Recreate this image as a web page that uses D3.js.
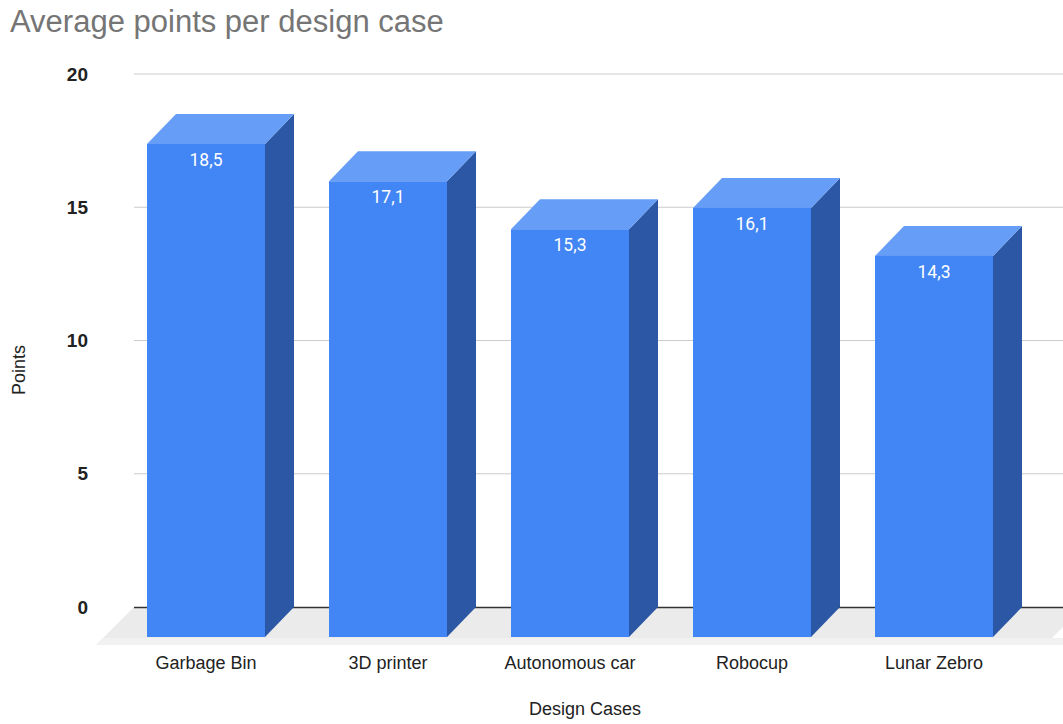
<!DOCTYPE html>
<html>
<head>
<meta charset="utf-8">
<script src="https://cdn.jsdelivr.net/npm/d3@7/dist/d3.min.js"></script>
<style>
  body { margin: 0; background: #fff; }
  svg { display: block; font-family: "Liberation Sans", Arial, sans-serif; }
</style>
</head>
<body>
<svg id="chart" width="1063" height="724"></svg>
<script>
// data
const categories = ["Garbage Bin", "3D printer", "Autonomous car", "Robocup", "Lunar Zebro"];
const points = [18.5, 17.1, 15.3, 16.1, 14.3];
const yTicks = [0, 5, 10, 15, 20];

const W = 1063, H = 724;
const svg = d3.select('#chart');

// back wall scales (gridlines live on the back plane)
const y = d3.scaleLinear().domain([0, 20]).range([607, 74]);
const x = d3.scaleBand().domain(categories).range([144, 1054])
    .paddingInner(0.3516).paddingOuter(0.1758);

// 3d offsets
const dx = -29, dy = 30;          // bar front face relative to back
const floorDepth = 38;

// title
svg.append('text')
    .attr('x', 10).attr('y', 32)
    .attr('font-size', 31)
    .attr('fill', '#757575')
    .text('Average points per design case');

// gridlines
svg.append('g')
    .selectAll('line')
    .data(yTicks.filter(d => d > 0))
    .enter().append('line')
    .attr('x1', 134).attr('x2', W)
    .attr('y1', d => y(d)).attr('y2', d => y(d))
    .attr('stroke', '#cccccc').attr('stroke-width', 1);

// tick labels
svg.append('g')
    .selectAll('text')
    .data(yTicks)
    .enter().append('text')
    .attr('x', 88)
    .attr('y', d => y(d))
    .attr('dy', '0.35em')
    .attr('text-anchor', 'end')
    .attr('font-size', 19)
    .attr('font-weight', 'bold')
    .attr('fill', '#222')
    .text(d => d);

// floor
const y0 = y(0);
svg.append('path')
    .attr('d', `M134,${y0} L${W + 20},${y0} L${W + 20 - floorDepth},${y0 + floorDepth} L${134 - floorDepth},${y0 + floorDepth} Z`)
    .attr('fill', '#ebebeb');
svg.append('path')
    .attr('d', `M${134 - dy - 1},${y0 + dy + 1} L${W},${y0 + dy + 1} L${W},${y0 + floorDepth} L${134 - floorDepth},${y0 + floorDepth} Z`)
    .attr('fill', '#f1f1f1');

// zero line
svg.append('line')
    .attr('x1', 134).attr('x2', W)
    .attr('y1', y0 + 0.5).attr('y2', y0 + 0.5)
    .attr('stroke', '#333').attr('stroke-width', 1.3);

// bars
const bw = x.bandwidth();
const bars = svg.append('g')
    .selectAll('g.bar')
    .data(categories.map((c, i) => ({ name: c, value: points[i] })))
    .enter().append('g')
    .attr('class', 'bar');

// side face
bars.append('path')
    .attr('d', d => {
        const xr = x(d.name) + bw, yt = y(d.value);
        return `M${xr + dx},${yt + dy} L${xr},${yt} L${xr},${y0} L${xr + dx},${y0 + dy} Z`;
    })
    .attr('fill', '#2b57a5');

// top face
bars.append('path')
    .attr('d', d => {
        const xl = x(d.name), yt = y(d.value);
        return `M${xl + dx},${yt + dy} L${xl},${yt} L${xl + bw},${yt} L${xl + bw + dx},${yt + dy} Z`;
    })
    .attr('fill', '#669df6');

// front face
bars.append('rect')
    .attr('x', d => x(d.name) + dx)
    .attr('y', d => y(d.value) + dy)
    .attr('width', bw)
    .attr('height', d => y0 - y(d.value))
    .attr('fill', '#4285f4');

// value labels
bars.append('text')
    .attr('x', d => x(d.name) + dx + bw / 2)
    .attr('y', d => y(d.value) + dy + 15.5)
    .attr('dy', '0.35em')
    .attr('text-anchor', 'middle')
    .attr('font-family', 'Roboto, Arial, sans-serif')
    .attr('font-size', 17.5)
    .attr('fill', '#ffffff')
    .text(d => String(d.value).replace('.', ','));

// category labels
svg.append('g')
    .selectAll('text')
    .data(categories)
    .enter().append('text')
    .attr('x', d => x(d) + dx + bw / 2)
    .attr('y', 663)
    .attr('dy', '0.35em')
    .attr('text-anchor', 'middle')
    .attr('font-size', 18)
    .attr('fill', '#222')
    .text(d => d);

// axis titles
svg.append('text')
    .attr('x', 585).attr('y', 709)
    .attr('dy', '0.35em')
    .attr('text-anchor', 'middle')
    .attr('font-size', 18)
    .attr('fill', '#222')
    .text('Design Cases');

svg.append('text')
    .attr('transform', 'translate(19,370) rotate(-90)')
    .attr('dy', '0.35em')
    .attr('text-anchor', 'middle')
    .attr('font-size', 18)
    .attr('fill', '#222')
    .text('Points');
</script>
</body>
</html>
